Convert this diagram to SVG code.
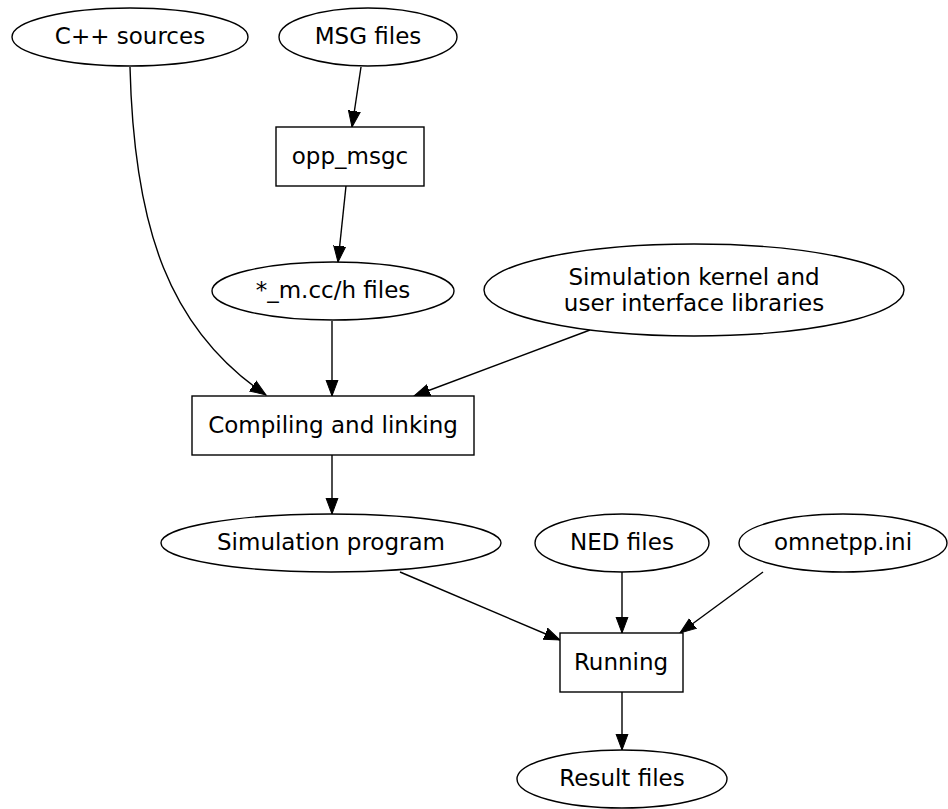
<svg xmlns="http://www.w3.org/2000/svg" width="948" height="809" viewBox="0 0 948 809">
<style>
.n{fill:#fff;stroke:#000;stroke-width:1.4}
.e{fill:none;stroke:#000;stroke-width:1.4;marker-end:url(#ah)}
text{font-family:"DejaVu Sans",sans-serif;font-size:23px;fill:#000;text-anchor:middle}
</style>
<defs>
<marker id="ah" markerUnits="userSpaceOnUse" markerWidth="18" markerHeight="14" refX="16" refY="7" orient="auto">
<polygon points="0,1 16,7 0,13" fill="#000" stroke="#000"/>
</marker>
</defs>
<rect width="948" height="809" fill="#fff"/>
<g id="edges">
<path class="e" d="M130,67 C134,230 170,330 266,395"/>
<path class="e" d="M361,67 L352,127"/>
<path class="e" d="M346,186 L338,262"/>
<path class="e" d="M332,321 L332,396"/>
<path class="e" d="M590,330 L414,396"/>
<path class="e" d="M332,455 L332,514"/>
<path class="e" d="M400,572 L560,640"/>
<path class="e" d="M622,572 L622,633"/>
<path class="e" d="M763,572 L680,633"/>
<path class="e" d="M622,692 L622,750"/>
</g>
<g id="cpp"><ellipse class="n" cx="130" cy="37" rx="118" ry="29"/><text x="130" y="44">C++ sources</text></g>
<g id="msg"><ellipse class="n" cx="368" cy="37" rx="89" ry="29"/><text x="368" y="44">MSG files</text></g>
<g id="oppmsgc"><rect class="n" x="276" y="127" width="148" height="59"/><text x="350" y="163.5">opp_msgc</text></g>
<g id="mcc"><ellipse class="n" cx="333" cy="291" rx="121" ry="29"/><text x="333" y="298">*_m.cc/h files</text></g>
<g id="kernel"><ellipse class="n" cx="694" cy="290" rx="210" ry="46"/><text x="694" y="285">Simulation kernel and</text><text x="694" y="311">user interface libraries</text></g>
<g id="compile"><rect class="n" x="192" y="396" width="282" height="59"/><text x="333" y="432.5">Compiling and linking</text></g>
<g id="simprog"><ellipse class="n" cx="331" cy="543" rx="170" ry="29"/><text x="331" y="550">Simulation program</text></g>
<g id="ned"><ellipse class="n" cx="622" cy="543" rx="87" ry="29"/><text x="622" y="550">NED files</text></g>
<g id="ini"><ellipse class="n" cx="843" cy="543" rx="104" ry="29"/><text x="843" y="550">omnetpp.ini</text></g>
<g id="running"><rect class="n" x="560" y="633" width="123" height="59"/><text x="621" y="669.5">Running</text></g>
<g id="result"><ellipse class="n" cx="622" cy="779" rx="105" ry="29"/><text x="622" y="786">Result files</text></g>
</svg>
